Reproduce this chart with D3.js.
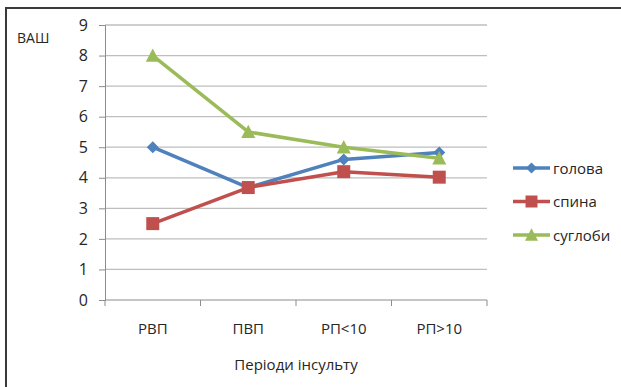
<!DOCTYPE html>
<html>
<head>
<meta charset="utf-8">
<script src="https://cdn.jsdelivr.net/npm/d3@7"></script>
<style>
  html, body { margin: 0; padding: 0; background: #fff; }
  svg text { font-family: "Open Sans", "Noto Sans", sans-serif; fill: #262626; }
</style>
</head>
<body>
<svg id="chart" width="621" height="387"></svg>
<script>
// Pain score (VAS) by stroke period for three body regions
const categories = ["РВП", "ПВП", "РП<10", "РП>10"];
const golova = [5.0, 3.68, 4.6, 4.83];
const spyna = [2.5, 3.68, 4.2, 4.02];
const suhlobi = [8.0, 5.5, 5.0, 4.64];
const yTicks = [0, 1, 2, 3, 4, 5, 6, 7, 8, 9];
const seriesNames = ["голова", "спина", "суглоби"];
const seriesColors = ["#4F81BD", "#C0504D", "#9BBB59"];

const series = [
  { name: seriesNames[0], values: golova, color: seriesColors[0], marker: "diamond" },
  { name: seriesNames[1], values: spyna, color: seriesColors[1], marker: "square" },
  { name: seriesNames[2], values: suhlobi, color: seriesColors[2], marker: "triangle" }
];

const svg = d3.select("#chart");

// outer chart frame (runs off the right and bottom edges)
svg.append("rect")
  .attr("x", 6).attr("y", 8)
  .attr("width", 640).attr("height", 400)
  .attr("fill", "#fff")
  .attr("stroke", "#3a3a3a").attr("stroke-width", 2);

const plot = { left: 105, right: 487, top: 25, bottom: 300 };

const x = d3.scaleBand().domain(categories).range([plot.left, plot.right]);
const y = d3.scaleLinear().domain([0, 9]).range([plot.bottom, plot.top]);

// horizontal gridlines
svg.append("g")
  .selectAll("line")
  .data(yTicks.filter(d => d > 0))
  .join("line")
  .attr("x1", plot.left).attr("x2", plot.right)
  .attr("y1", d => y(d)).attr("y2", d => y(d))
  .attr("stroke", "#BEBEBE").attr("stroke-width", 1.3);

// y axis
const yAxis = svg.append("g")
  .attr("transform", `translate(${plot.left},0)`)
  .call(d3.axisLeft(y).tickValues(yTicks).tickSize(6).tickPadding(11).tickFormat(d3.format("d")));
yAxis.select(".domain").attr("stroke", "#8C8C8C");
yAxis.selectAll(".tick line").attr("stroke", "#8C8C8C");
yAxis.selectAll("text").style("font-size", "16px");

// x axis with ticks at category boundaries
const xAxisG = svg.append("g")
  .attr("transform", `translate(0,${plot.bottom})`);
xAxisG.append("line")
  .attr("x1", plot.left).attr("x2", plot.right)
  .attr("stroke", "#8C8C8C");
const bounds = categories.map(c => x(c)).concat([x(categories[categories.length - 1]) + x.bandwidth()]);
xAxisG.selectAll("line.tk")
  .data(bounds)
  .join("line")
  .attr("class", "tk")
  .attr("x1", d => d).attr("x2", d => d)
  .attr("y1", 0).attr("y2", 6)
  .attr("stroke", "#8C8C8C");
xAxisG.selectAll("text")
  .data(categories)
  .join("text")
  .attr("x", d => x(d) + x.bandwidth() / 2)
  .attr("y", 34)
  .attr("text-anchor", "middle")
  .style("font-size", "15px")
  .text(d => d);

// axis titles
svg.append("text")
  .attr("x", 17).attr("y", 43)
  .style("font-size", "14px")
  .text("ВАШ");
svg.append("text")
  .attr("x", 296).attr("y", 370)
  .attr("text-anchor", "middle")
  .style("font-size", "15px")
  .text("Періоди інсульту");

// marker path generator
function markerPath(type, size) {
  const s = size / 2;
  if (type === "diamond") return `M0,${-s}L${s},0L0,${s}L${-s},0Z`;
  if (type === "square") return `M${-s},${-s}H${s}V${s}H${-s}Z`;
  const h = size * 0.95;
  return `M0,${-h / 2 - 1}L${s + 0.5},${h / 2}L${-s - 0.5},${h / 2}Z`;
}
const markerSize = { diamond: 12, square: 13, triangle: 13 };

const line = d3.line()
  .x((d, i) => x(categories[i]) + x.bandwidth() / 2)
  .y(d => y(d));

series.forEach(s => {
  const g = svg.append("g");
  g.append("path")
    .datum(s.values)
    .attr("d", line)
    .attr("fill", "none")
    .attr("stroke", s.color)
    .attr("stroke-width", 3.5)
    .attr("stroke-linejoin", "round");
  g.selectAll("path.mk")
    .data(s.values)
    .join("path")
    .attr("class", "mk")
    .attr("transform", (d, i) => `translate(${x(categories[i]) + x.bandwidth() / 2},${y(d)})`)
    .attr("d", markerPath(s.marker, markerSize[s.marker]))
    .attr("fill", s.color);
});

// legend
const legend = svg.append("g");
series.forEach((s, i) => {
  const ly = 168 + i * 33.5;
  const item = legend.append("g").attr("transform", `translate(513,${ly})`);
  item.append("line")
    .attr("x1", 0).attr("x2", 37)
    .attr("stroke", s.color).attr("stroke-width", 3.5);
  item.append("path")
    .attr("transform", "translate(18.5,0)")
    .attr("d", markerPath(s.marker, markerSize[s.marker] - 1))
    .attr("fill", s.color);
  item.append("text")
    .attr("x", 40).attr("y", 5.5)
    .style("font-size", "15px")
    .text(s.name);
});
</script>
</body>
</html>
